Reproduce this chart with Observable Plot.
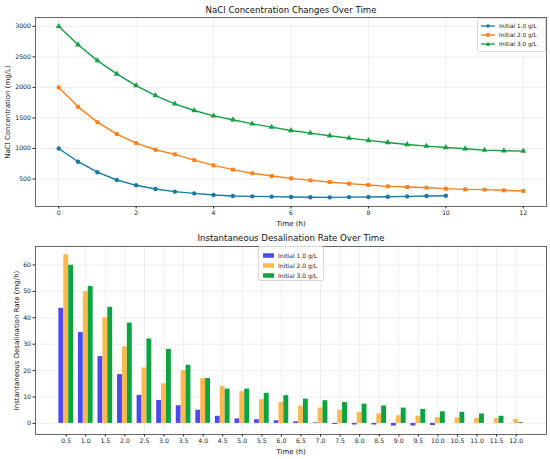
<!DOCTYPE html>
<html>
<head>
<meta charset="utf-8">
<script src="https://cdn.jsdelivr.net/npm/d3@7"></script>
<script src="https://cdn.jsdelivr.net/npm/@observablehq/plot@0.6"></script>
<style>
  html, body { margin: 0; padding: 0; background: #fff; }
  #wrap { position: relative; width: 550px; height: 459px; font-family: "DejaVu Sans", sans-serif; }
  #wrap svg { display: block; }
  .legend { position: absolute; background: rgba(255,255,255,0.9); border: 1px solid #d8d8d8; border-radius: 2px; box-sizing: border-box; font-size: 5.8px; color: #222; padding: 2px 3px; }
  .legend .row { display: flex; align-items: center; height: 9px; }
  .legend svg { margin-right: 4px; }
</style>
</head>
<body>
<div id="wrap"></div>
<script>
// ---------- data ----------
const seriesNames = ["Initial 1.0 g/L", "Initial 2.0 g/L", "Initial 3.0 g/L"];
const concTime = [0,0.5,1,1.5,2,2.5,3,3.5,4,4.5,5,5.5,6,6.5,7,7.5,8,8.5,9,9.5,10,10.5,11,11.5,12];
const conc1 = [1000,783,612,484,397,337,293,265,239,222,216,211,206,201,200,204,206,210,215,221,227];
const conc2 = [2000,1682,1431,1235,1088,979,903,810,723,653,593,549,511,478,451,424,402,380,369,358,342,331,326,315,304];
const conc3 = [3000,2700,2439,2221,2031,1867,1731,1622,1535,1470,1404,1350,1295,1252,1208,1170,1132,1099,1066,1039,1017,996,974,963,957];

const rateTime = [0.5,1,1.5,2,2.5,3,3.5,4,4.5,5,5.5,6,6.5,7,7.5,8,8.5,9,9.5,10,10.5,11,11.5,12];
const rate1 = [43.6,34.4,25.3,18.5,10.6,8.7,6.7,5.0,2.7,1.7,1.4,1.0,0.6,0.25,-0.4,-0.6,-0.6,-1.0,-1.0,-0.8];
const rate2 = [63.9,49.9,40.0,29.0,21.0,15.0,20.0,17.0,14.0,12.0,9.0,8.0,6.5,5.8,5.0,4.2,3.6,2.9,2.7,2.2,2.1,1.9,1.8,1.5];
const rate3 = [59.9,51.9,44.0,38.0,32.0,28.0,22.0,17.0,13.0,13.0,11.4,10.5,9.2,8.6,7.9,7.3,6.6,5.8,5.3,4.4,4.2,3.6,2.7,0.3];

const concTicksX = [0,2,4,6,8,10,12];
const concTicksY = [500,1000,1500,2000,2500,3000];
const rateTicksY = [0,10,20,30,40,50,60];

const lineColors = ["#1679a7", "#ff7f1a", "#13a040"];
const barColors = ["#4a4aee", "#ffb84f", "#0ca43f"];
const symbols = ["circle", "square", "triangle"];

// ---------- tables ----------
const concData = [];
[conc1, conc2, conc3].forEach((arr, k) => arr.forEach((v, i) => concData.push({t: concTime[i], v, series: seriesNames[k]})));
const offsets = [-0.125, 0, 0.125];
const barW = 0.125;
const rateData = [];
[rate1, rate2, rate3].forEach((arr, k) => arr.forEach((v, i) => rateData.push({t: rateTime[i], v, k, series: seriesNames[k]})));

const wrap = document.getElementById("wrap");
const baseStyle = {fontFamily: "DejaVu Sans, sans-serif", fontSize: "6.2px", background: "white", color: "#222"};
const gridStyle = {stroke: "#b0b0b0", strokeOpacity: 0.35, strokeWidth: 0.6};

// ---------- top chart ----------
const chartTop = Plot.plot({
  width: 550, height: 229,
  marginLeft: 35, marginRight: 4, marginTop: 17, marginBottom: 23,
  style: baseStyle,
  x: {domain: [-0.6, 12.6], ticks: concTicksX, tickFormat: d3.format("d"), tickSize: 2.5, tickPadding: 2, label: null},
  y: {domain: [50, 3145], ticks: concTicksY, tickFormat: d3.format("d"), tickSize: 2.5, tickPadding: 2, label: null},
  color: {domain: seriesNames, range: lineColors},
  symbol: {domain: seriesNames, range: symbols},
  marks: [
    Plot.gridX(concTicksX, gridStyle),
    Plot.gridY(concTicksY, gridStyle),
    Plot.line(concData, {x: "t", y: "v", z: "series", stroke: "series", strokeWidth: 1.4}),
    Plot.dot(concData, {x: "t", y: "v", symbol: "series", fill: "series", stroke: "none", r: 2.2}),
    Plot.frame({stroke: "#444", strokeWidth: 0.8}),
    Plot.text(["NaCl Concentration Changes Over Time"], {text: d => d, frameAnchor: "top", textAnchor: "middle", lineAnchor: "middle", dy: -7, fontSize: 8.6, fill: "#111"}),
    Plot.text(["Time (h)"], {text: d => d, frameAnchor: "bottom", textAnchor: "middle", lineAnchor: "middle", dy: 17, fontSize: 7, fill: "#111"}),
    Plot.text(["NaCl Concentration (mg/L)"], {text: d => d, frameAnchor: "left", textAnchor: "middle", lineAnchor: "middle", rotate: -90, dx: -28, fontSize: 7, fill: "#111"})
  ]
});
wrap.appendChild(chartTop);

// ---------- bottom chart ----------
const chartBottom = Plot.plot({
  width: 550, height: 230,
  marginLeft: 35, marginRight: 4, marginTop: 17, marginBottom: 25,
  style: baseStyle,
  x: {domain: [-0.285, 12.775], ticks: rateTime, tickFormat: d => d.toFixed(1), tickSize: 2.5, tickPadding: 2, label: null},
  y: {domain: [-4.2, 67], ticks: rateTicksY, tickFormat: d3.format("d"), tickSize: 2.5, tickPadding: 2, label: null},
  color: {domain: seriesNames, range: barColors},
  marks: [
    Plot.gridX(rateTime, gridStyle),
    Plot.gridY(rateTicksY, gridStyle),
    Plot.rect(rateData, {
      x1: d => d.t + offsets[d.k] - barW / 2,
      x2: d => d.t + offsets[d.k] + barW / 2,
      y1: 0, y2: "v", fill: "series"
    }),
    Plot.frame({stroke: "#444", strokeWidth: 0.8}),
    Plot.text(["Instantaneous Desalination Rate Over Time"], {text: d => d, frameAnchor: "top", textAnchor: "middle", lineAnchor: "middle", dy: -8, fontSize: 8.6, fill: "#111"}),
    Plot.text(["Time (h)"], {text: d => d, frameAnchor: "bottom", textAnchor: "middle", lineAnchor: "middle", dy: 17, fontSize: 7, fill: "#111"}),
    Plot.text(["Instantaneous Desalination Rate (mg/h)"], {text: d => d, frameAnchor: "left", textAnchor: "middle", lineAnchor: "middle", rotate: -90, dx: -19, fontSize: 7, fill: "#111"})
  ]
});
wrap.appendChild(chartBottom);

// ---------- legends ----------
function lineSwatch(color, sym) {
  let m = "";
  if (sym === "circle") m = `<circle cx="7" cy="3" r="1.8" fill="${color}"/>`;
  else if (sym === "square") m = `<rect x="5.2" y="1.2" width="3.6" height="3.6" fill="${color}"/>`;
  else m = `<path d="M7,0.8 L9.2,4.8 L4.8,4.8 Z" fill="${color}"/>`;
  return `<svg width="14" height="6"><line x1="0" x2="14" y1="3" y2="3" stroke="${color}" stroke-width="1.3"/>${m}</svg>`;
}
const lg1 = document.createElement("div");
lg1.className = "legend";
Object.assign(lg1.style, {left: "477px", top: "18px", width: "69px", height: "34px"});
lg1.innerHTML = seriesNames.map((n, i) => `<div class="row">${lineSwatch(lineColors[i], symbols[i])}<span>${n}</span></div>`).join("");
wrap.appendChild(lg1);

const lg2 = document.createElement("div");
lg2.className = "legend";
Object.assign(lg2.style, {left: "258px", top: "246px", width: "66px", height: "35px", fontSize: "6px", padding: "3px 4px"});
lg2.innerHTML = seriesNames.map((n, i) => `<div class="row" style="height:10px"><svg width="11" height="5"><rect width="11" height="4.5" y="0.25" fill="${barColors[i]}"/></svg><span>${n}</span></div>`).join("");
wrap.appendChild(lg2);
</script>
</body>
</html>
